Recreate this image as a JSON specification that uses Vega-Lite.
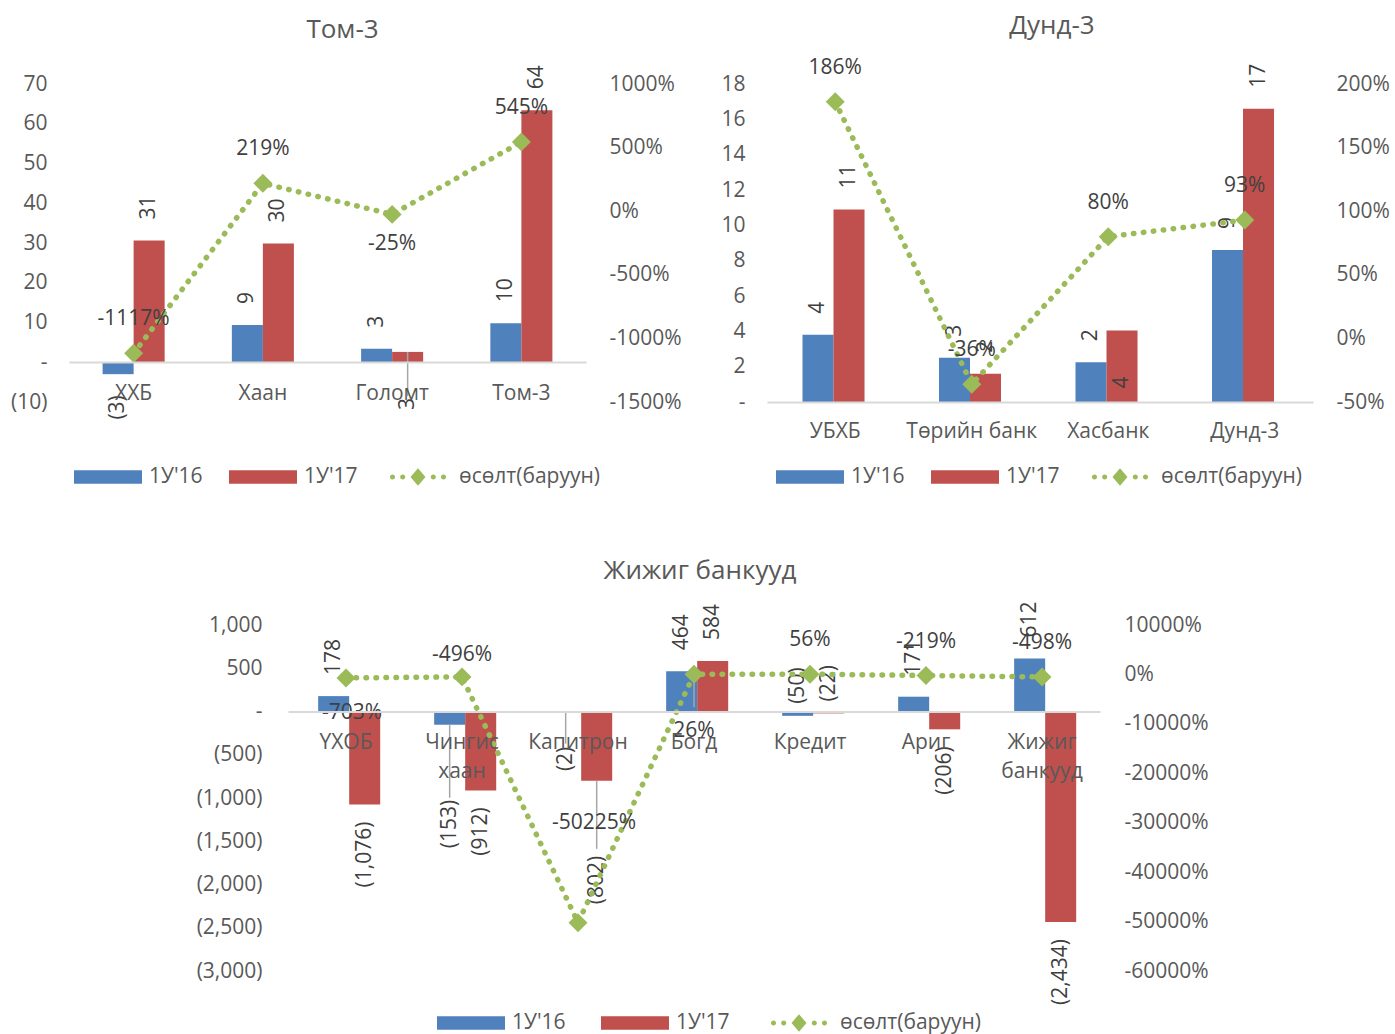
{
  "$schema": "https://vega.github.io/schema/vega-lite/v6.json",
  "background": "white",
  "padding": {"left": 10, "top": 12, "right": 0, "bottom": 50},
  "config": {
    "view": {"stroke": null},
    "font": "Open Sans",
    "axis": {"labelFont": "Open Sans", "labelFontSize": 21, "labelColor": "#595959", "grid": false, "ticks": false, "domain": false},
    "title": {"font": "Open Sans", "fontSize": 26, "fontWeight": "normal", "color": "#595959"},
    "text": {"font": "Open Sans", "fontSize": 21, "color": "#404040"},
    "legend": {"labelFont": "Open Sans", "labelFontSize": 21, "labelColor": "#595959", "symbolSize": 4624, "symbolType": "M-1,-0.2H1V0.2H-1Z", "labelOffset": 7, "columnPadding": 26, "padding": 0, "labelLimit": 400}
  },
  "datasets": {
    "tlb": [
      {"bank": "ХХБ", "series": "1У'16", "value": -3, "label": "(3)"},
      {"bank": "ХХБ", "series": "1У'17", "value": 30.6, "label": "31"},
      {"bank": "Хаан", "series": "1У'16", "value": 9.4, "label": "9"},
      {"bank": "Хаан", "series": "1У'17", "value": 29.9, "label": "30"},
      {"bank": "Голомт", "series": "1У'16", "value": 3.4, "label": "3"},
      {"bank": "Голомт", "series": "1У'17", "value": 2.6, "label": "3"},
      {"bank": "Том-3", "series": "1У'16", "value": 9.8, "label": "10"},
      {"bank": "Том-3", "series": "1У'17", "value": 63.4, "label": "64"}
    ],
    "tlg": [
      {"bank": "ХХБ", "growth": -1117, "glabel": "-1117%"},
      {"bank": "Хаан", "growth": 219, "glabel": "219%"},
      {"bank": "Голомт", "growth": -25, "glabel": "-25%"},
      {"bank": "Том-3", "growth": 545, "glabel": "545%"}
    ],
    "trb": [
      {"bank": "УБХБ", "series": "1У'16", "value": 3.8, "label": "4"},
      {"bank": "УБХБ", "series": "1У'17", "value": 10.9, "label": "11"},
      {"bank": "Төрийн банк", "series": "1У'16", "value": 2.5, "label": "3"},
      {"bank": "Төрийн банк", "series": "1У'17", "value": 1.6, "label": "2"},
      {"bank": "Хасбанк", "series": "1У'16", "value": 2.25, "label": "2"},
      {"bank": "Хасбанк", "series": "1У'17", "value": 4.05, "label": "4"},
      {"bank": "Дунд-3", "series": "1У'16", "value": 8.6, "label": "9"},
      {"bank": "Дунд-3", "series": "1У'17", "value": 16.6, "label": "17"}
    ],
    "trg": [
      {"bank": "УБХБ", "growth": 186, "glabel": "186%"},
      {"bank": "Төрийн банк", "growth": -36, "glabel": "-36%"},
      {"bank": "Хасбанк", "growth": 80, "glabel": "80%"},
      {"bank": "Дунд-3", "growth": 93, "glabel": "93%"}
    ],
    "bb": [
      {"bank": "ҮХОБ", "series": "1У'16", "value": 178, "label": "178"},
      {"bank": "ҮХОБ", "series": "1У'17", "value": -1076, "label": "(1,076)"},
      {"bank": "Чингис хаан", "series": "1У'16", "value": -153, "label": "(153)"},
      {"bank": "Чингис хаан", "series": "1У'17", "value": -912, "label": "(912)"},
      {"bank": "Капитрон", "series": "1У'16", "value": -2, "label": "(2)"},
      {"bank": "Капитрон", "series": "1У'17", "value": -802, "label": "(802)"},
      {"bank": "Богд", "series": "1У'16", "value": 464, "label": "464"},
      {"bank": "Богд", "series": "1У'17", "value": 584, "label": "584"},
      {"bank": "Кредит", "series": "1У'16", "value": -50, "label": "(50)"},
      {"bank": "Кредит", "series": "1У'17", "value": -22, "label": "(22)"},
      {"bank": "Ариг", "series": "1У'16", "value": 171, "label": "171"},
      {"bank": "Ариг", "series": "1У'17", "value": -206, "label": "(206)"},
      {"bank": "Жижиг банкууд", "series": "1У'16", "value": 612, "label": "612"},
      {"bank": "Жижиг банкууд", "series": "1У'17", "value": -2434, "label": "(2,434)"}
    ],
    "bg": [
      {"bank": "ҮХОБ", "growth": -703, "glabel": "-703%"},
      {"bank": "Чингис хаан", "growth": -496, "glabel": "-496%"},
      {"bank": "Капитрон", "growth": -50225, "glabel": "-50225%"},
      {"bank": "Богд", "growth": 26, "glabel": "26%"},
      {"bank": "Кредит", "growth": 56, "glabel": "56%"},
      {"bank": "Ариг", "growth": -219, "glabel": "-219%"},
      {"bank": "Жижиг банкууд", "growth": -498, "glabel": "-498%"}
    ]
  },
  "vconcat": [
    {
      "hconcat": [
        {
          "width": 517, "height": 318,
          "title": {"text": "Том-3", "offset": 22, "dx": 15},
          "layer": [
            {
              "data": {"name": "tlb"},
              "encoding": {
                "x": {"field": "bank", "type": "nominal", "sort": null, "title": null,
                  "scale": {"domain": ["ХХБ", "Хаан", "Голомт", "Том-3"], "paddingInner": 0.52, "paddingOuter": 0.26},
                  "axis": {"orient": "bottom", "offset": -40, "labelPadding": 20, "domain": true, "domainColor": "#D9D9D9", "domainWidth": 2, "labelAngle": 0, "zindex": 1}},
                "xOffset": {"field": "series", "type": "nominal", "scale": {"domain": ["1У'16", "1У'17"]}},
                "y": {"field": "value", "type": "quantitative", "title": null,
                  "scale": {"domain": [-10, 70], "nice": false, "zero": false},
                  "axis": {"orient": "left", "values": [-10, 0, 10, 20, 30, 40, 50, 60, 70], "labelPadding": 22,
                    "labelExpr": "datum.value == 0 ? '-\u00a0\u00a0\u00a0' : datum.value < 0 ? '(' + format(-datum.value, ',') + ')' : format(datum.value, ',') + '\u00a0'"}}
              },
              "layer": [
                {"mark": {"type": "bar"},
                  "encoding": {"color": {"field": "series", "type": "nominal",
                    "scale": {"domain": ["1У'16", "1У'17", "өсөлт(баруун)"], "range": ["#4F81BD", "#C0504D", "#9BBB59"]},
                    "legend": {"orient": "none", "legendX": 5, "legendY": 359, "direction": "horizontal", "title": null,
                      "encode": {"symbols": {"update": {
                        "shape": {"signal": "datum.value == 'өсөлт(баруун)' ? 'M-0.825,0a0.075,0.075 0 1,0 0.15,0a0.075,0.075 0 1,0 -0.15,0ZM-0.525,0a0.075,0.075 0 1,0 0.15,0a0.075,0.075 0 1,0 -0.15,0ZM0.375,0a0.075,0.075 0 1,0 0.15,0a0.075,0.075 0 1,0 -0.15,0ZM0.675,0a0.075,0.075 0 1,0 0.15,0a0.075,0.075 0 1,0 -0.15,0ZM0,-0.26L0.22,0L0,0.26L-0.22,0Z' : 'M-1,-0.2H1V0.2H-1Z'"},
                        "fill": {"signal": "datum.value == 'өсөлт(баруун)' ? '#9BBB59' : datum.value == \"1У'16\" ? '#4F81BD' : '#C0504D'"},
                        "strokeWidth": {"value": 0},
                        "size": {"value": 4624},
                        "opacity": {"value": 1}}}}}}}},
                {"transform": [{"filter": "datum.bank == 'Голомт' && datum.series == \"1У'17\""}],
                  "mark": {"type": "rule", "color": "#A6A6A6", "strokeWidth": 1.5, "y2Offset": 44},
                  "encoding": {"y2": {"field": "value"}}},
                {"transform": [{"filter": "datum.value >= 0 && !(datum.bank == 'Голомт' && datum.series == \"1У'17\")"}],
                  "mark": {"type": "text", "angle": 270, "align": "left", "baseline": "middle", "dx": 21},
                  "encoding": {"text": {"field": "label"}}},
                {"transform": [{"filter": "datum.value < 0"}],
                  "mark": {"type": "text", "angle": 270, "align": "right", "baseline": "middle", "dx": -21},
                  "encoding": {"text": {"field": "label"}}},
                {"transform": [{"filter": "datum.bank == 'Голомт' && datum.series == \"1У'17\""}],
                  "mark": {"type": "text", "angle": 270, "align": "right", "baseline": "middle", "dx": -46},
                  "encoding": {"text": {"field": "label"}}}
              ]
            },
            {
              "data": {"name": "tlg"},
              "encoding": {
                "x": {"field": "bank", "type": "nominal", "sort": null, "title": null,
                  "axis": {"orient": "bottom", "offset": -40, "labelPadding": 20, "domain": true, "domainColor": "#D9D9D9", "domainWidth": 2, "labelAngle": 0, "zindex": 1}},
                "y": {"field": "growth", "type": "quantitative", "title": null,
                  "scale": {"domain": [-1500, 1000], "nice": false, "zero": false},
                  "axis": {"orient": "right", "values": [-1500, -1000, -500, 0, 500, 1000], "labelPadding": 23, "labelExpr": "datum.value + '%'"}}
              },
              "layer": [
                {"mark": {"type": "line", "strokeDash": [0.5, 9.5], "strokeCap": "round", "strokeWidth": 5.5},
                  "encoding": {"color": {"datum": "өсөлт(баруун)", "type": "nominal"}}},
                {"mark": {"type": "point", "shape": "diamond", "filled": true, "size": 360, "opacity": 1},
                  "encoding": {"color": {"datum": "өсөлт(баруун)", "type": "nominal"}}},
                {"transform": [{"filter": "datum.bank != 'Голомт'"}],
                  "mark": {"type": "text", "align": "center", "baseline": "middle", "dy": -34},
                  "encoding": {"text": {"field": "glabel"}}},
                {"transform": [{"filter": "datum.bank == 'Голомт'"}],
                  "mark": {"type": "text", "align": "center", "baseline": "middle", "dy": 30},
                  "encoding": {"text": {"field": "glabel"}}}
              ]
            }
          ],
          "resolve": {"scale": {"y": "independent"}}
        },
        {
          "width": 546, "height": 318,
          "title": {"text": "Дунд-3", "offset": 18, "dx": 12},
          "layer": [
            {
              "data": {"name": "trb"},
              "encoding": {
                "x": {"field": "bank", "type": "nominal", "sort": null, "title": null,
                  "scale": {"domain": ["УБХБ", "Төрийн банк", "Хасбанк", "Дунд-3"], "paddingInner": 0.52, "paddingOuter": 0.26},
                  "axis": {"orient": "bottom", "offset": 0, "labelPadding": 18, "domain": true, "domainColor": "#D9D9D9", "domainWidth": 2, "labelAngle": 0, "zindex": 1}},
                "xOffset": {"field": "series", "type": "nominal", "scale": {"domain": ["1У'16", "1У'17"]}},
                "y": {"field": "value", "type": "quantitative", "title": null,
                  "scale": {"domain": [0, 18], "nice": false, "zero": false},
                  "axis": {"orient": "left", "values": [0, 2, 4, 6, 8, 10, 12, 14, 16, 18], "labelPadding": 22,
                    "labelExpr": "datum.value == 0 ? '-\u00a0\u00a0\u00a0' : datum.value < 0 ? '(' + format(-datum.value, ',') + ')' : format(datum.value, ',') + '\u00a0'"}}
              },
              "layer": [
                {"mark": {"type": "bar"},
                  "encoding": {"color": {"field": "series", "type": "nominal",
                    "scale": {"domain": ["1У'16", "1У'17", "өсөлт(баруун)"], "range": ["#4F81BD", "#C0504D", "#9BBB59"]},
                    "legend": {"orient": "none", "legendX": 9, "legendY": 359, "direction": "horizontal", "title": null,
                      "encode": {"symbols": {"update": {
                        "shape": {"signal": "datum.value == 'өсөлт(баруун)' ? 'M-0.825,0a0.075,0.075 0 1,0 0.15,0a0.075,0.075 0 1,0 -0.15,0ZM-0.525,0a0.075,0.075 0 1,0 0.15,0a0.075,0.075 0 1,0 -0.15,0ZM0.375,0a0.075,0.075 0 1,0 0.15,0a0.075,0.075 0 1,0 -0.15,0ZM0.675,0a0.075,0.075 0 1,0 0.15,0a0.075,0.075 0 1,0 -0.15,0ZM0,-0.26L0.22,0L0,0.26L-0.22,0Z' : 'M-1,-0.2H1V0.2H-1Z'"},
                        "fill": {"signal": "datum.value == 'өсөлт(баруун)' ? '#9BBB59' : datum.value == \"1У'16\" ? '#4F81BD' : '#C0504D'"},
                        "strokeWidth": {"value": 0},
                        "size": {"value": 4624},
                        "opacity": {"value": 1}}}}}}}},
                {"transform": [{"filter": "datum.value >= 0 && !(datum.bank == 'Хасбанк' && datum.series == \"1У'17\")"}],
                  "mark": {"type": "text", "angle": 270, "align": "left", "baseline": "middle", "dx": 21},
                  "encoding": {"text": {"field": "label"}}},
                {"transform": [{"filter": "datum.bank == 'Хасбанк' && datum.series == \"1У'17\""}],
                  "mark": {"type": "text", "angle": 270, "align": "right", "baseline": "middle", "dx": -46},
                  "encoding": {"text": {"field": "label"}}}
              ]
            },
            {
              "data": {"name": "trg"},
              "encoding": {
                "x": {"field": "bank", "type": "nominal", "sort": null, "title": null,
                  "axis": {"orient": "bottom", "offset": 0, "labelPadding": 18, "domain": true, "domainColor": "#D9D9D9", "domainWidth": 2, "labelAngle": 0, "zindex": 1}},
                "y": {"field": "growth", "type": "quantitative", "title": null,
                  "scale": {"domain": [-50, 200], "nice": false, "zero": false},
                  "axis": {"orient": "right", "values": [-50, 0, 50, 100, 150, 200], "labelPadding": 23, "labelExpr": "datum.value + '%'"}}
              },
              "layer": [
                {"mark": {"type": "line", "strokeDash": [0.5, 9.5], "strokeCap": "round", "strokeWidth": 5.5},
                  "encoding": {"color": {"datum": "өсөлт(баруун)", "type": "nominal"}}},
                {"mark": {"type": "point", "shape": "diamond", "filled": true, "size": 360, "opacity": 1},
                  "encoding": {"color": {"datum": "өсөлт(баруун)", "type": "nominal"}}},
                {"mark": {"type": "text", "align": "center", "baseline": "middle", "dy": -34},
                  "encoding": {"text": {"field": "glabel"}}}
              ]
            }
          ],
          "resolve": {"scale": {"y": "independent"}}
        }
      ],
      "spacing": 38,
      "resolve": {"scale": {"color": "independent"}, "legend": {"color": "independent"}}
    },
    {
      "hconcat": [
        {
          "width": 127, "height": 10,
          "data": {"values": [{"s": 0}]},
          "mark": {"type": "point", "opacity": 0},
          "encoding": {}
        },
        {
          "width": 812, "height": 346,
          "title": {"text": "Жижиг банкууд", "offset": 18, "dx": 6},
          "layer": [
            {
              "data": {"name": "bb"},
              "encoding": {
                "x": {"field": "bank", "type": "nominal", "sort": null, "title": null,
                  "scale": {"domain": ["ҮХОБ", "Чингис хаан", "Капитрон", "Богд", "Кредит", "Ариг", "Жижиг банкууд"], "paddingInner": 0.52, "paddingOuter": 0.26},
                  "axis": {"orient": "bottom", "offset": -259.5, "labelPadding": 20, "domain": true, "domainColor": "#D9D9D9", "domainWidth": 2, "labelAngle": 0, "labelLineHeight": 29, "labelExpr": "split(datum.label, ' ')", "zindex": 1}},
                "xOffset": {"field": "series", "type": "nominal", "scale": {"domain": ["1У'16", "1У'17"]}},
                "y": {"field": "value", "type": "quantitative", "title": null,
                  "scale": {"domain": [-3000, 1000], "nice": false, "zero": false},
                  "axis": {"orient": "left", "values": [-3000, -2500, -2000, -1500, -1000, -500, 0, 500, 1000], "labelPadding": 26,
                    "labelExpr": "datum.value == 0 ? '-\u00a0\u00a0\u00a0' : datum.value < 0 ? '(' + format(-datum.value, ',') + ')' : format(datum.value, ',') + '\u00a0'"}}
              },
              "layer": [
                {"mark": {"type": "bar"},
                  "encoding": {"color": {"field": "series", "type": "nominal",
                    "scale": {"domain": ["1У'16", "1У'17", "өсөлт(баруун)"], "range": ["#4F81BD", "#C0504D", "#9BBB59"]},
                    "legend": {"orient": "none", "legendX": 149, "legendY": 364, "direction": "horizontal", "title": null, "columnPadding": 35,
                      "encode": {"symbols": {"update": {
                        "shape": {"signal": "datum.value == 'өсөлт(баруун)' ? 'M-0.825,0a0.075,0.075 0 1,0 0.15,0a0.075,0.075 0 1,0 -0.15,0ZM-0.525,0a0.075,0.075 0 1,0 0.15,0a0.075,0.075 0 1,0 -0.15,0ZM0.375,0a0.075,0.075 0 1,0 0.15,0a0.075,0.075 0 1,0 -0.15,0ZM0.675,0a0.075,0.075 0 1,0 0.15,0a0.075,0.075 0 1,0 -0.15,0ZM0,-0.26L0.22,0L0,0.26L-0.22,0Z' : 'M-1,-0.2H1V0.2H-1Z'"},
                        "fill": {"signal": "datum.value == 'өсөлт(баруун)' ? '#9BBB59' : datum.value == \"1У'16\" ? '#4F81BD' : '#C0504D'"},
                        "strokeWidth": {"value": 0},
                        "size": {"value": 4624},
                        "opacity": {"value": 1}}}}}}}},
                {"transform": [{"filter": "datum.bank == 'Чингис хаан' && datum.series == \"1У'16\""}],
                  "mark": {"type": "rule", "color": "#A6A6A6", "strokeWidth": 1.5, "y2Offset": 73},
                  "encoding": {"y2": {"field": "value"}}},
                {"transform": [{"filter": "datum.bank == 'Капитрон' && datum.series == \"1У'16\""}],
                  "mark": {"type": "rule", "color": "#A6A6A6", "strokeWidth": 1.5, "y2Offset": 32},
                  "encoding": {"y2": {"field": "value"}}},
                {"transform": [{"filter": "datum.bank == 'Капитрон' && datum.series == \"1У'17\""}],
                  "mark": {"type": "rule", "color": "#A6A6A6", "strokeWidth": 1.5, "y2Offset": 68},
                  "encoding": {"y2": {"field": "value"}}},
                {"transform": [{"filter": "datum.value >= 0"}],
                  "mark": {"type": "text", "angle": 270, "align": "left", "baseline": "middle", "dx": 21},
                  "encoding": {"text": {"field": "label"}}},
                {"transform": [{"filter": "datum.value < 0 && datum.bank != 'Капитрон' && datum.bank != 'Кредит' && !(datum.bank == 'Чингис хаан' && datum.series == \"1У'16\")"}],
                  "mark": {"type": "text", "angle": 270, "align": "right", "baseline": "middle", "dx": -17},
                  "encoding": {"text": {"field": "label"}}},
                {"transform": [{"filter": "(datum.bank == 'Чингис хаан' && datum.series == \"1У'16\") || (datum.bank == 'Капитрон' && datum.series == \"1У'17\")"}],
                  "mark": {"type": "text", "angle": 270, "align": "right", "baseline": "middle", "dx": -75},
                  "encoding": {"text": {"field": "label"}}},
                {"transform": [{"filter": "datum.bank == 'Капитрон' && datum.series == \"1У'16\""}],
                  "mark": {"type": "text", "angle": 270, "align": "right", "baseline": "middle", "dx": -35},
                  "encoding": {"text": {"field": "label"}}},
                {"transform": [{"filter": "datum.bank == 'Кредит'"}],
                  "mark": {"type": "text", "angle": 270, "align": "left", "baseline": "middle", "dx": 12},
                  "encoding": {"text": {"field": "label"}}}
              ]
            },
            {
              "data": {"name": "bg"},
              "encoding": {
                "x": {"field": "bank", "type": "nominal", "sort": null, "title": null,
                  "axis": {"orient": "bottom", "offset": -259.5, "labelPadding": 20, "domain": true, "domainColor": "#D9D9D9", "domainWidth": 2, "labelAngle": 0, "labelLineHeight": 29, "labelExpr": "split(datum.label, ' ')", "zindex": 1}},
                "y": {"field": "growth", "type": "quantitative", "title": null,
                  "scale": {"domain": [-60000, 10000], "nice": false, "zero": false},
                  "axis": {"orient": "right", "values": [-60000, -50000, -40000, -30000, -20000, -10000, 0, 10000], "labelPadding": 24, "labelExpr": "datum.value + '%'"}}
              },
              "layer": [
                {"transform": [{"filter": "datum.bank == 'Богд'"}],
                  "mark": {"type": "rule", "color": "#A6A6A6", "strokeWidth": 1.5, "y2Offset": 33},
                  "encoding": {"y2": {"field": "growth"}}},
                {"mark": {"type": "line", "strokeDash": [0.5, 9.5], "strokeCap": "round", "strokeWidth": 5.5},
                  "encoding": {"color": {"datum": "өсөлт(баруун)", "type": "nominal"}}},
                {"mark": {"type": "point", "shape": "diamond", "filled": true, "size": 360, "opacity": 1},
                  "encoding": {"color": {"datum": "өсөлт(баруун)", "type": "nominal"}}},
                {"transform": [{"filter": "datum.bank == 'Кредит' || datum.bank == 'Ариг' || datum.bank == 'Жижиг банкууд'"}],
                  "mark": {"type": "text", "align": "center", "baseline": "middle", "dy": -34},
                  "encoding": {"text": {"field": "glabel"}}},
                {"transform": [{"filter": "datum.bank == 'Чингис хаан'"}],
                  "mark": {"type": "text", "align": "center", "baseline": "middle", "dy": -22},
                  "encoding": {"text": {"field": "glabel"}}},
                {"transform": [{"filter": "datum.bank == 'ҮХОБ'"}],
                  "mark": {"type": "text", "align": "center", "baseline": "middle", "dy": 35, "dx": 6},
                  "encoding": {"text": {"field": "glabel"}}},
                {"transform": [{"filter": "datum.bank == 'Капитрон'"}],
                  "mark": {"type": "text", "align": "center", "baseline": "middle", "dy": -100, "dx": 16},
                  "encoding": {"text": {"field": "glabel"}}},
                {"transform": [{"filter": "datum.bank == 'Богд'"}],
                  "mark": {"type": "text", "align": "center", "baseline": "middle", "dy": 57},
                  "encoding": {"text": {"field": "glabel"}}}
              ]
            }
          ],
          "resolve": {"scale": {"y": "independent"}}
        }
      ],
      "spacing": 0,
      "align": "none",
      "resolve": {"scale": {"color": "independent"}, "legend": {"color": "independent"}}
    }
  ],
  "spacing": 70,
  "center": false,
  "resolve": {"scale": {"color": "independent"}, "legend": {"color": "independent"}}
}
